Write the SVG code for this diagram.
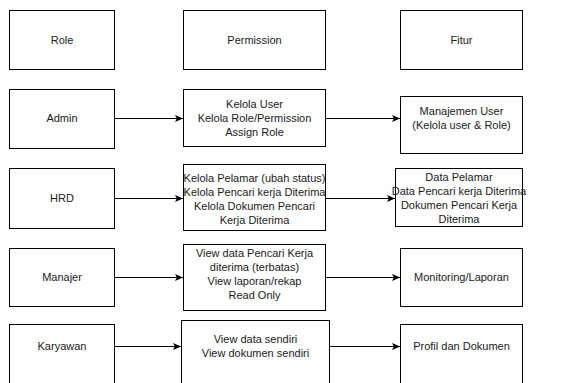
<svg xmlns="http://www.w3.org/2000/svg" width="585" height="383" viewBox="0 0 585 383">
<defs>
<style>
.box{fill:#fff;stroke:#000;stroke-width:1}
.t{font-family:"Liberation Sans",Arial,sans-serif;font-size:11px;fill:#1a1a1a;text-anchor:middle}
.c{stroke:#000;stroke-width:1;fill:none}
</style>
<marker id="ah" markerUnits="userSpaceOnUse" markerWidth="9" markerHeight="8" refX="8" refY="4" orient="auto">
<path d="M0,0.5 L8,4 L0,7.5 L1.8,4 Z" fill="#000"/>
</marker>
</defs>
<rect width="585" height="383" fill="#fff"/>
<g id="hdr-role"><rect class="box" x="9.5" y="10.5" width="105" height="59"/><text class="t" x="62" y="44">Role</text></g>
<g id="hdr-permission"><rect class="box" x="183.5" y="10.5" width="142" height="59"/><text class="t" x="254.5" y="44">Permission</text></g>
<g id="hdr-fitur"><rect class="box" x="400.5" y="10.5" width="122" height="59"/><text class="t" x="461.5" y="44">Fitur</text></g>

<g id="admin"><rect class="box" x="9.5" y="89.5" width="105" height="59"/><text class="t" x="62" y="122">Admin</text></g>
<g id="admin-perm"><rect class="box" x="183.5" y="89.5" width="142" height="57"/><text class="t" x="254.5" y="108">Kelola User</text><text class="t" x="254.5" y="122">Kelola Role/Permission</text><text class="t" x="254.5" y="136">Assign Role</text></g>
<g id="admin-fitur"><rect class="box" x="400.5" y="96.5" width="122" height="57"/><text class="t" x="461.5" y="115">Manajemen User</text><text class="t" x="461.5" y="129">(Kelola user &amp; Role)</text></g>

<g id="hrd"><rect class="box" x="9.5" y="168.5" width="105" height="60"/><text class="t" x="62" y="202">HRD</text></g>
<g id="hrd-perm"><rect class="box" x="183.5" y="164.5" width="142" height="66"/><text class="t" x="254.5" y="182">Kelola Pelamar (ubah status)</text><text class="t" x="254.5" y="196">Kelola Pencari kerja Diterima</text><text class="t" x="254.5" y="210">Kelola Dokumen Pencari</text><text class="t" x="254.5" y="224">Kerja Diterima</text></g>
<g id="hrd-fitur"><rect class="box" x="395.5" y="168.5" width="127" height="58"/><text class="t" x="459" y="181">Data Pelamar</text><text class="t" x="459" y="195">Data Pencari kerja Diterima</text><text class="t" x="459" y="209">Dokumen Pencari Kerja</text><text class="t" x="459" y="223">Diterima</text></g>

<g id="manajer"><rect class="box" x="9.5" y="248.5" width="105" height="58"/><text class="t" x="62" y="281">Manajer</text></g>
<g id="manajer-perm"><rect class="box" x="183.5" y="244.5" width="142" height="66"/><text class="t" x="254.5" y="257">View data Pencari Kerja</text><text class="t" x="254.5" y="271">diterima (terbatas)</text><text class="t" x="254.5" y="285">View laporan/rekap</text><text class="t" x="254.5" y="299">Read Only</text></g>
<g id="manajer-fitur"><rect class="box" x="400.5" y="248.5" width="122" height="58"/><text class="t" x="461.5" y="281">Monitoring/Laporan</text></g>

<g id="karyawan"><rect class="box" x="9.5" y="324.5" width="105" height="70"/><text class="t" x="62" y="350">Karyawan</text></g>
<g id="karyawan-perm"><rect class="box" x="181.5" y="320.5" width="148" height="74"/><text class="t" x="255.5" y="343">View data sendiri</text><text class="t" x="255.5" y="357">View dokumen sendiri</text></g>
<g id="karyawan-fitur"><rect class="box" x="400.5" y="324.5" width="122" height="70"/><text class="t" x="461.5" y="350">Profil dan Dokumen</text></g>

<g id="connectors">
<line class="c" x1="115" y1="118.5" x2="183" y2="118.5" marker-end="url(#ah)"/>
<line class="c" x1="326" y1="118.5" x2="400" y2="118.5" marker-end="url(#ah)"/>
<line class="c" x1="115" y1="198.5" x2="183" y2="198.5" marker-end="url(#ah)"/>
<line class="c" x1="326" y1="198.5" x2="395" y2="198.5" marker-end="url(#ah)"/>
<line class="c" x1="115" y1="277.5" x2="183" y2="277.5" marker-end="url(#ah)"/>
<line class="c" x1="326" y1="277.5" x2="400" y2="277.5" marker-end="url(#ah)"/>
<line class="c" x1="115" y1="346.5" x2="181" y2="346.5" marker-end="url(#ah)"/>
<line class="c" x1="330" y1="346.5" x2="400" y2="346.5" marker-end="url(#ah)"/>
</g>
</svg>
